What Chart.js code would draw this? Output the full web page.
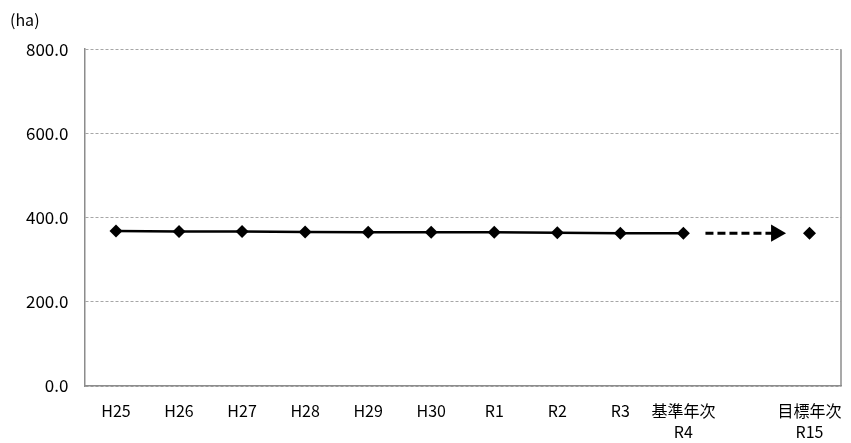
<!DOCTYPE html>
<html>
<head>
<meta charset="utf-8">
<script src="https://cdn.jsdelivr.net/npm/chart.js@4"></script>
<style>
  html, body { margin: 0; padding: 0; background: #fff; overflow: hidden; }
  #wrap { position: relative; width: 851px; height: 443px; }
</style>
</head>
<body>
<div id="wrap"><canvas id="chart"></canvas></div>
<script>
// categories (first line / second line of each x label)
const years = ['H25', 'H26', 'H27', 'H28', 'H29', 'H30', 'R1', 'R2', 'R3', '基準年次', '', '目標年次'];
const subYears = ['', '', '', '', '', '', '', '', '', 'R4', '', 'R15'];

// area in ha, H25 .. R4
const actual = [368, 367, 367, 366, 365, 365, 365, 364, 363, 363];
// target year R15
const targetIndex = 11;
const targetValue = 363;

// dashed arrow between base year and target year
const arrowX = [9.35, 10.47];
const arrowValue = 363;

const yTicks = [0, 200, 400, 600, 800];

Chart.defaults.font.family = '"Noto Sans CJK JP", "Noto Sans", sans-serif';
Chart.defaults.color = '#000';

const actualPoints = actual.map((v, i) => ({x: i, y: v}));
const arrowPoints = arrowX.map(x => ({x: x, y: arrowValue}));

// solid frame line on the right of the plot area
const rightFrame = {
    id: 'rightFrame',
    beforeDatasetsDraw(chart) {
        const {ctx, chartArea} = chart;
        ctx.save();
        ctx.strokeStyle = '#8c8c8c';
        ctx.lineWidth = 1.5;
        ctx.beginPath();
        ctx.moveTo(chartArea.right, chartArea.top);
        ctx.lineTo(chartArea.right, chartArea.bottom);
        ctx.stroke();
        ctx.restore();
    }
};

new Chart(document.getElementById('chart'), {
    type: 'line',
    data: {
        datasets: [{
            data: actualPoints,
            borderColor: '#000',
            borderWidth: 2.5,
            backgroundColor: '#000',
            pointStyle: 'rectRot',
            pointRadius: 6.5,
            pointBorderWidth: 0
        }, {
            data: arrowPoints,
            borderColor: '#000',
            borderWidth: 3,
            borderDash: [8, 4],
            backgroundColor: '#000',
            pointStyle: ['line', 'triangle'],
            pointRadius: [0, 10],
            pointRotation: 90,
            pointBorderWidth: 0
        }, {
            data: [{x: targetIndex, y: targetValue}],
            showLine: false,
            backgroundColor: '#000',
            pointStyle: 'rectRot',
            pointRadius: 6.5,
            pointBorderWidth: 0
        }]
    },
    plugins: [rightFrame],
    options: {
        responsive: true,
        maintainAspectRatio: false,
        animation: false,
        events: [],
        layout: {
            padding: {left: 10, right: 5, top: 0, bottom: 0}
        },
        plugins: {
            legend: {display: false},
            tooltip: {enabled: false},
            title: {
                display: true,
                text: '(ha)',
                align: 'start',
                font: {size: 16, weight: 'normal'},
                padding: {top: 10, bottom: 20}
            }
        },
        scales: {
            x: {
                type: 'linear',
                min: -0.5,
                max: 11.5,
                afterBuildTicks: axis => {
                    axis.ticks = years.map((y, i) => ({value: i}));
                },
                afterFit: axis => {
                    axis.height = 57;
                },
                ticks: {
                    autoSkip: false,
                    maxRotation: 0,
                    padding: 0,
                    font: {size: 16, lineHeight: 1.35},
                    callback: (value) => {
                        const i = Math.round(value);
                        return subYears[i] ? [years[i], subYears[i]] : years[i];
                    }
                },
                grid: {drawOnChartArea: false, drawTicks: true, tickLength: 14, color: 'rgba(0,0,0,0)'},
                border: {color: '#8c8c8c', width: 1.5}
            },
            y: {
                min: 0,
                max: 800,
                afterBuildTicks: axis => {
                    axis.ticks = yTicks.map(v => ({value: v}));
                },
                ticks: {
                    padding: 16,
                    font: {size: 17},
                    callback: v => v.toFixed(1)
                },
                grid: {color: '#a6a6a6', lineWidth: 1, drawTicks: false},
                border: {color: '#8c8c8c', width: 1.5, dash: [3, 2]}
            }
        }
    }
});
</script>
</body>
</html>
